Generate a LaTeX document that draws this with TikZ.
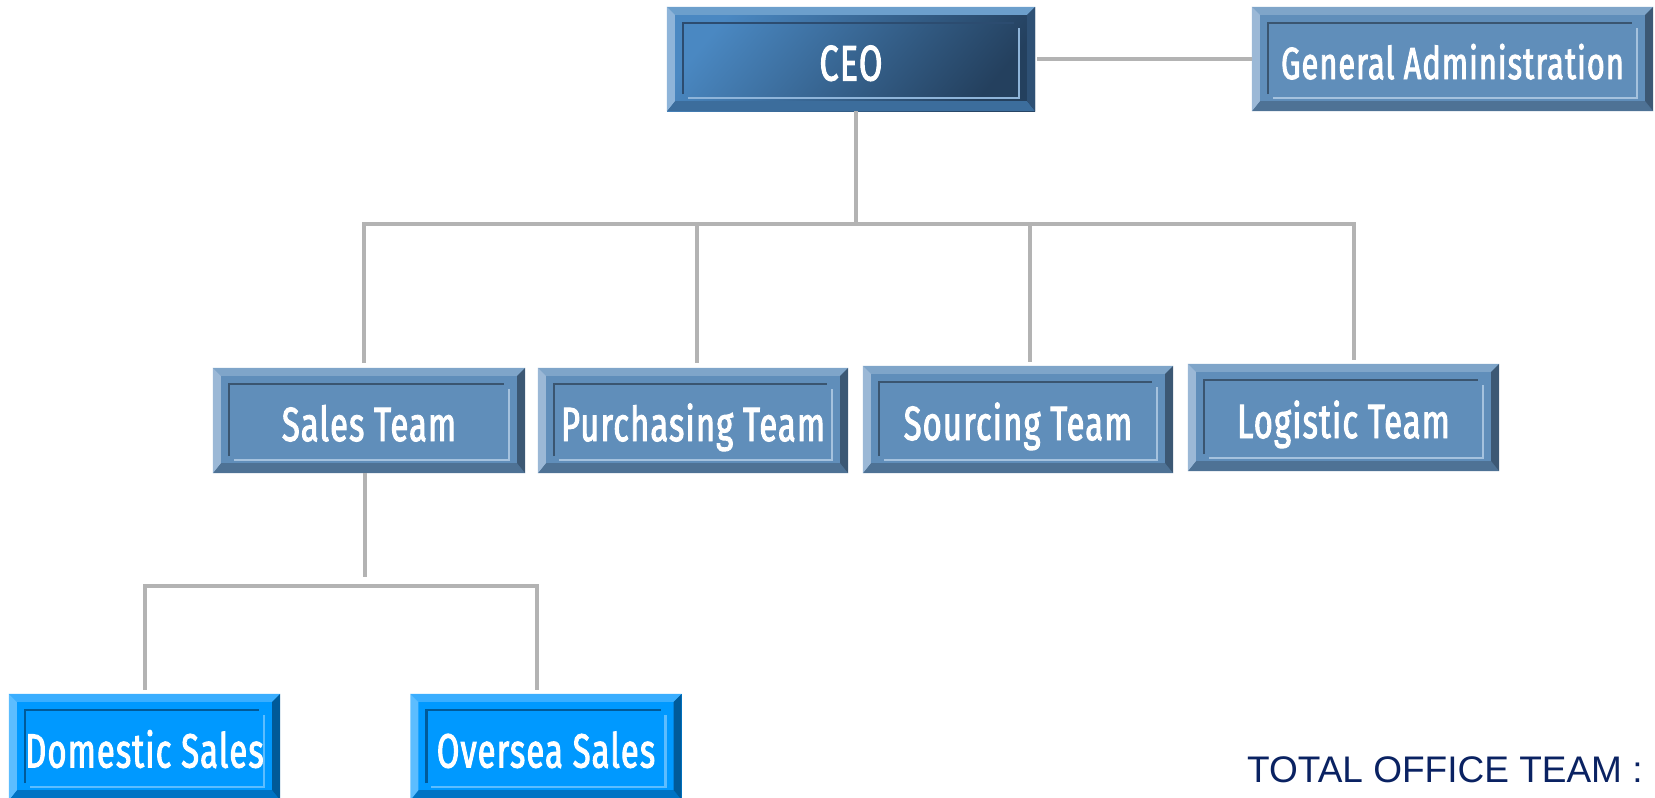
\documentclass[tikz,border=0pt]{standalone}
\usepackage{fontspec}
\newfontfamily\boxfont[FakeStretch=0.68, FakeBold=2, LetterSpace=2.5]{Fira Sans}
\newfontfamily\arialfont{Liberation Sans}
\definecolor{conn}{HTML}{B3B3B3}
% team boxes
\definecolor{tmF}{HTML}{608EBA}
\definecolor{tmT}{HTML}{7FA5C9}
\definecolor{tmL}{HTML}{9BB8D6}
\definecolor{tmR}{HTML}{3C5874}
\definecolor{tmB}{HTML}{4E7295}
\definecolor{tmD}{HTML}{3A5570}
\definecolor{tmH}{HTML}{A5C2DE}
% ceo
\definecolor{ceoA}{HTML}{4A88C2}
\definecolor{ceoZ}{HTML}{24405E}
\definecolor{ceT}{HTML}{6C9FCC}
\definecolor{ceL}{HTML}{8EB4D9}
\definecolor{ceR}{HTML}{2E5074}
\definecolor{ceB}{HTML}{3C6D9C}
\definecolor{ceD}{HTML}{2C4C70}
\definecolor{ceH}{HTML}{8EB4D9}
% bright blue boxes
\definecolor{bbF}{HTML}{0099FF}
\definecolor{bbT}{HTML}{3AAEFF}
\definecolor{bbL}{HTML}{5CBDFF}
\definecolor{bbR}{HTML}{005A99}
\definecolor{bbB}{HTML}{0073C4}
\definecolor{bbD}{HTML}{005A99}
\definecolor{bbH}{HTML}{5CBDFF}
\definecolor{navy}{HTML}{0A2262}
\newcommand\bevels[2]{%
 \fill[#2T] (#1.north west) -- (#1.north east) -- ([shift={(-8pt,-8pt)}]#1.north east) -- ([shift={(8pt,-8pt)}]#1.north west) -- cycle;
 \fill[#2B] (#1.south west) -- (#1.south east) -- ([shift={(-8pt,10pt)}]#1.south east) -- ([shift={(8pt,10pt)}]#1.south west) -- cycle;
 \fill[#2L] (#1.north west) -- ([shift={(8pt,-8pt)}]#1.north west) -- ([shift={(8pt,10pt)}]#1.south west) -- (#1.south west) -- cycle;
 \fill[#2R] (#1.north east) -- ([shift={(-8pt,-8pt)}]#1.north east) -- ([shift={(-8pt,10pt)}]#1.south east) -- (#1.south east) -- cycle;
 \draw[#2D, line width=2.5pt] ([shift={(16pt,17pt)}]#1.south west) -- ([shift={(16pt,-16pt)}]#1.north west) -- ([shift={(-21pt,-16pt)}]#1.north east);
 \draw[#2H, line width=2.5pt] ([shift={(21pt,13pt)}]#1.south west) -- ([shift={(-16pt,13pt)}]#1.south east) -- ([shift={(-16pt,-21pt)}]#1.north east);
}
\tikzset{
 obox/.style={inner sep=0pt, text=white, text height=41pt, text depth=0pt,
   font=\boxfont\fontsize{48}{48}\selectfont},
 teambox/.style={obox, fill=tmF},
 bluebox/.style={obox, fill=bbF},
 ceobox/.style={obox, left color=ceoA, right color=ceoZ, shading angle=50},
 link/.style={draw=conn, line width=3.3pt, line join=miter},
}
\begin{document}
\begin{tikzpicture}[x=1pt,y=-1pt]
\useasboundingbox (0,0) rectangle (1655,798);
\clip (0,0) rectangle (1655,798);
% boxes
\node[ceobox, minimum width=368pt, minimum height=104pt, text height=43pt, font=\boxfont\fontsize{50}{50}\selectfont] (ceo) at (851,59) {CEO};
\bevels{ceo}{ce}
\node[teambox, minimum width=401pt, minimum height=104pt, text height=40pt, font=\boxfont\fontsize{45}{45}\selectfont] (ga) at (1452.5,59) {General Administration};
\bevels{ga}{tm}
\node[teambox, minimum width=312pt, minimum height=105pt] (sales) at (369,420.5) {Sales Team};
\bevels{sales}{tm}
\node[teambox, minimum width=310pt, minimum height=105pt] (purch) at (693,420.5) {Purchasing Team};
\bevels{purch}{tm}
\node[teambox, minimum width=310pt, minimum height=107pt] (sourc) at (1018,419.5) {Sourcing Team};
\bevels{sourc}{tm}
\node[teambox, minimum width=311pt, minimum height=107pt] (logis) at (1343.5,417.5) {Logistic Team};
\bevels{logis}{tm}
\node[bluebox, minimum width=271pt, minimum height=106pt] (dom) at (144.5,747) {Domestic Sales};
\bevels{dom}{bb}
\node[bluebox, minimum width=271pt, minimum height=106pt] (over) at (546,747) {Oversea Sales};
\bevels{over}{bb}
% connector points
\coordinate (bc) at (856,224);
\coordinate (b1) at (364,224);
\coordinate (b2) at (697,224);
\coordinate (b3) at (1030,224);
\coordinate (b4) at (1354,224);
\coordinate (t1) at (364,363);
\coordinate (t2) at (697,363);
\coordinate (t3) at (1030,362);
\coordinate (t4) at (1354,360);
\coordinate (s0) at (365,577);
\coordinate (sb1) at (145,586);
\coordinate (sb2) at (537,586);
\coordinate (d1) at (145,690);
\coordinate (d2) at (537,690);
% connectors
\draw[link] ([xshift=2pt]ceo.east) -- (ga.west);
\draw[link] (ceo.south -| bc) -- (bc);
\draw[link] (t1) -- (b1) -- (b4) -- (t4);
\draw[link] (b2) -- (t2);
\draw[link] (b3) -- (t3);
\draw[link] (sales.south -| s0) -- (s0);
\draw[link] (d1) -- (sb1) -- (sb2) -- (d2);
% total text
\node[anchor=base west, inner sep=0pt, text=navy, font=\arialfont\fontsize{37}{37}\selectfont] (total) at (1247,782) {TOTAL OFFICE TEAM :};
\end{tikzpicture}
\end{document}
